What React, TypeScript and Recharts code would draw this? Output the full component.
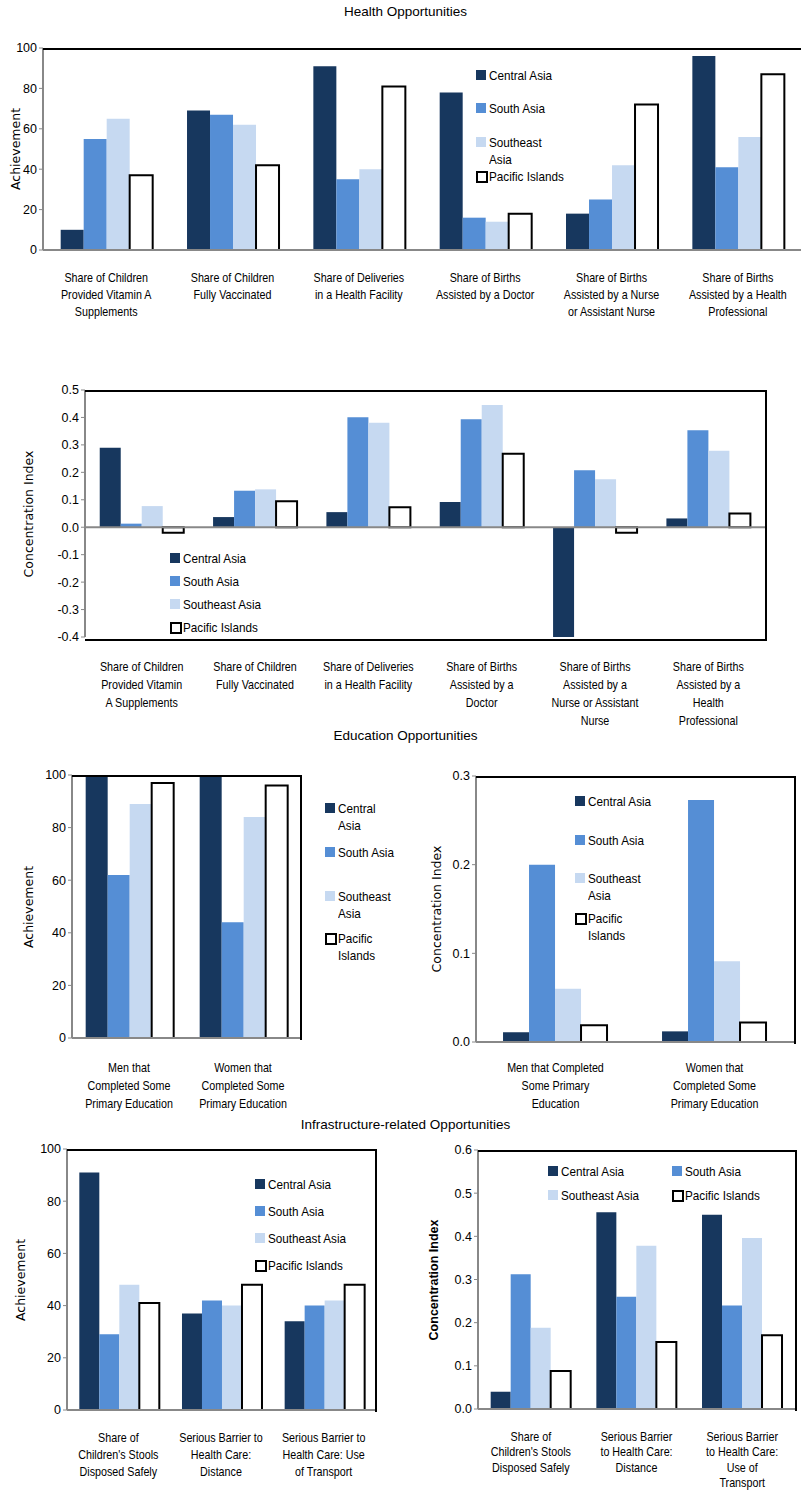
import { BarChart, Bar, XAxis, YAxis, ReferenceLine } from "recharts";

const FONT = "'Liberation Sans', Arial, sans-serif";
const SERIES = ["Central Asia", "South Asia", "Southeast Asia", "Pacific Islands"];
const FILLS = ["#17375e", "#558ed5", "#c6d9f1", "#ffffff"];

// Health, achievement
const healthCats = [
  "Share of Children\nProvided Vitamin A\nSupplements",
  "Share of Children\nFully Vaccinated",
  "Share of Deliveries\nin a Health Facility",
  "Share of Births\nAssisted by a Doctor",
  "Share of Births\nAssisted by a Nurse\nor Assistant Nurse",
  "Share of Births\nAssisted by a Health\nProfessional",
];
const healthAch = [
  [10, 69, 91, 78, 18, 96],
  [55, 67, 35, 16, 25, 41],
  [65, 62, 40, 14, 42, 56],
  [37, 42, 81, 18, 72, 87],
];
// Health, concentration index
const healthCiCats = [
  "Share of Children\nProvided Vitamin\nA Supplements",
  "Share of Children\nFully Vaccinated",
  "Share of Deliveries\nin a Health Facility",
  "Share of Births\nAssisted by a\nDoctor",
  "Share of Births\nAssisted by a\nNurse or Assistant\nNurse",
  "Share of Births\nAssisted by a\nHealth\nProfessional",
];
const healthCi = [
  [0.29, 0.037, 0.055, 0.092, -0.42, 0.032],
  [0.013, 0.133, 0.401, 0.393, 0.208, 0.353],
  [0.077, 0.138, 0.381, 0.445, 0.175, 0.279],
  [-0.02, 0.095, 0.073, 0.268, -0.02, 0.05],
];
// Education
const eduCats = [
  "Men that\nCompleted Some\nPrimary Education",
  "Women that\nCompleted Some\nPrimary Education",
];
const eduCiCats = [
  "Men that Completed\nSome Primary\nEducation",
  "Women that\nCompleted Some\nPrimary Education",
];
const eduAch = [
  [100, 100],
  [62, 44],
  [89, 84],
  [97, 96],
];
const eduCi = [
  [0.011, 0.012],
  [0.2, 0.273],
  [0.06, 0.091],
  [0.019, 0.022],
];
// Infrastructure
const infraCats = [
  "Share of\nChildren's Stools\nDisposed Safely",
  "Serious Barrier to\nHealth Care:\nDistance",
  "Serious Barrier to\nHealth Care: Use\nof Transport",
];
const infraCiCats = [
  "Share of\nChildren's Stools\nDisposed Safely",
  "Serious Barrier\nto Health Care:\nDistance",
  "Serious Barrier\nto Health Care:\nUse of\nTransport",
];
const infraAch = [
  [91, 37, 34],
  [29, 42, 40],
  [48, 40, 42],
  [41, 48, 48],
];
const infraCi = [
  [0.04, 0.456, 0.45],
  [0.312, 0.26, 0.24],
  [0.188, 0.378, 0.396],
  [0.088, 0.155, 0.171],
];

const build = (cats: string[], vals: number[][]) =>
  cats.map((c, i) => {
    const row: any = { cat: c };
    SERIES.forEach((s, j) => (row[s] = vals[j][i]));
    return row;
  });

// narrow-looking multi-line category label
const CatTick = ({ x, y, payload, dy, lh }: any) => {
  const lines = String(payload.value).split("\n");
  return (
    <g transform={`translate(${x},${y}) scale(0.86,1)`}>
      <text x={0} y={0} textAnchor="middle" fontSize={12.5} fontFamily={FONT} fill="#000">
        {lines.map((l, i) => (
          <tspan key={i} x={0} dy={i === 0 ? dy : lh}>
            {l}
          </tspan>
        ))}
      </text>
    </g>
  );
};

type LegendItem = { s: number; label: string[]; x: number; y: number };

function Panel(p: {
  left: number; top: number; w: number; h: number;
  cats: string[]; vals: number[][]; domain: [number, number]; ticks: number[];
  dec?: boolean; ylabel: string; ylx: number; bold?: boolean;
  labelDy: number; lh?: number; gap?: string; frame?: string; legend: LegendItem[];
}) {
  const data = build(p.cats, p.vals);
  const AW = 60;
  const PT = 10;
  return (
    <>
      <div style={{ position: "absolute", left: p.left - AW, top: p.top - PT }}>
        <BarChart
          width={AW + p.w + 5}
          height={PT + p.h + 90}
          data={data}
          margin={{ top: PT, right: 5, bottom: 0, left: 0 }}
          barCategoryGap={p.gap ?? "25%"}
          barGap={0}
        >
          <XAxis
            dataKey="cat"
            height={90}
            axisLine={false}
            tickLine={false}
            interval={0}
            tick={<CatTick dy={p.labelDy} lh={p.lh ?? 17} />}
          />
          <YAxis
            width={AW}
            domain={p.domain}
            ticks={p.ticks}
            allowDataOverflow
            axisLine={{ stroke: "#888", strokeWidth: 2 }}
            tickLine={{ stroke: "#888" }}
            tickSize={4}
            tick={{ fontSize: 12.5, fontFamily: FONT, fill: "#000" }}
            tickFormatter={(v: number) => (p.dec ? v.toFixed(1) : String(v))}
          />
          {SERIES.map((s, j) => (
            <Bar
              key={s}
              dataKey={s}
              fill={FILLS[j]}
              stroke={j === 3 ? "#000" : "none"}
              strokeWidth={j === 3 ? 2 : 0}
              isAnimationActive={false}
            />
          ))}
          <ReferenceLine y={0} stroke="#888" strokeWidth={2} />
        </BarChart>
      </div>
      <div
        style={{
          position: "absolute", left: p.left, top: p.top, width: p.w, height: p.h,
          borderTop: "2px solid #000",
          borderRight: p.frame === "top" ? "none" : "2px solid #000",
          borderBottom: p.frame === "full" ? "2px solid #000" : "none",
          pointerEvents: "none",
        }}
      />
      <div
        style={{
          position: "absolute", left: p.ylx, top: p.top + p.h / 2, fontSize: 12.5,
          fontFamily: p.bold ? "'Liberation Sans', sans-serif" : "'DejaVu Sans', sans-serif",
          fontWeight: p.bold ? "bold" : "normal",
          transform: "translate(-50%, -50%) rotate(-90deg)", whiteSpace: "nowrap",
        }}
      >
        {p.ylabel}
      </div>
      {p.legend.map((it, k) => (
        <div
          key={k}
          style={{ position: "absolute", left: it.x, top: it.y, fontFamily: FONT, fontSize: 13, lineHeight: "17px" }}
        >
          <span
            style={{
              position: "absolute", left: 0, top: 3, width: it.s === 3 ? 8 : 10, height: it.s === 3 ? 8 : 10,
              background: FILLS[it.s], border: it.s === 3 ? "2px solid #000" : "none",
            }}
          />
          <div style={{ marginLeft: 13, transform: "scaleX(0.9)", transformOrigin: "left" }}>
            {it.label.map((l, i) => (
              <div key={i}>{l}</div>
            ))}
          </div>
        </div>
      ))}
    </>
  );
}

const Title = ({ y, text }: { y: number; text: string }) => (
  <div style={{ position: "absolute", left: 0, width: 811, top: y, textAlign: "center", fontFamily: FONT, fontSize: 13.5 }}>
    {text}
  </div>
);

const vert = (x: number, ys: number[], labels: string[][]): LegendItem[] =>
  labels.map((l, i) => ({ s: i, label: l, x, y: ys[i] }));

export default function App() {
  return (
    <div style={{ position: "absolute", left: 0, top: 0, width: 801, height: 1491, overflow: "hidden", background: "#fff" }}>
      <Title y={4} text="Health Opportunities" />
      <Panel
        left={43} top={48} w={758} h={202} cats={healthCats} vals={healthAch}
        domain={[0, 100]} ticks={[0, 20, 40, 60, 80, 100]} ylabel="Achievement" ylx={15}
        labelDy={24} frame="top" gap="14%"
        legend={vert(476, [67, 100, 134, 168], [["Central Asia"], ["South Asia"], ["Southeast", "Asia"], ["Pacific Islands"]])}
      />
      <Panel
        left={85} top={390} w={680} h={247} cats={healthCiCats} vals={healthCi}
        domain={[-0.4, 0.5]} ticks={[-0.4, -0.3, -0.2, -0.1, 0, 0.1, 0.2, 0.3, 0.4, 0.5]} dec
        ylabel="Concentration Index" ylx={28} labelDy={26} lh={18} frame="full" gap="13%"
        legend={vert(170, [550, 573, 596, 619], [["Central Asia"], ["South Asia"], ["Southeast Asia"], ["Pacific Islands"]])}
      />
      <Title y={728} text="Education Opportunities" />
      <Panel
        left={72} top={775} w={228} h={263} cats={eduCats} vals={eduAch}
        domain={[0, 100]} ticks={[0, 20, 40, 60, 80, 100]} ylabel="Achievement" ylx={28}
        labelDy={26} lh={18} gap="12%"
        legend={vert(325, [800, 844, 888, 930], [["Central", "Asia"], ["South Asia"], ["Southeast", "Asia"], ["Pacific", "Islands"]])}
      />
      <Panel
        left={476} top={776} w={318} h={266} cats={eduCiCats} vals={eduCi}
        domain={[0, 0.3]} ticks={[0, 0.1, 0.2, 0.3]} dec ylabel="Concentration Index" ylx={436}
        labelDy={22} lh={18} gap="17%"
        legend={vert(575, [793, 832, 870, 910], [["Central Asia"], ["South Asia"], ["Southeast", "Asia"], ["Pacific", "Islands"]])}
      />
      <Title y={1117} text="Infrastructure-related Opportunities" />
      <Panel
        left={67} top={1149} w={308} h={261} cats={infraCats} vals={infraAch}
        domain={[0, 100]} ticks={[0, 20, 40, 60, 80, 100]} ylabel="Achievement" ylx={20}
        labelDy={24} lh={17} gap="12%"
        legend={vert(255, [1176, 1203, 1230, 1257], [["Central Asia"], ["South Asia"], ["Southeast Asia"], ["Pacific Islands"]])}
      />
      <Panel
        left={478} top={1150} w={317} h={259} cats={infraCiCats} vals={infraCi}
        domain={[0, 0.6]} ticks={[0, 0.1, 0.2, 0.3, 0.4, 0.5, 0.6]} dec ylabel="Concentration Index" ylx={434} bold
        labelDy={24} lh={15.5} gap="12%"
        legend={[
          { s: 0, label: ["Central Asia"], x: 548, y: 1163 },
          { s: 1, label: ["South Asia"], x: 672, y: 1163 },
          { s: 2, label: ["Southeast Asia"], x: 548, y: 1187 },
          { s: 3, label: ["Pacific Islands"], x: 672, y: 1187 },
        ]}
      />
    </div>
  );
}
